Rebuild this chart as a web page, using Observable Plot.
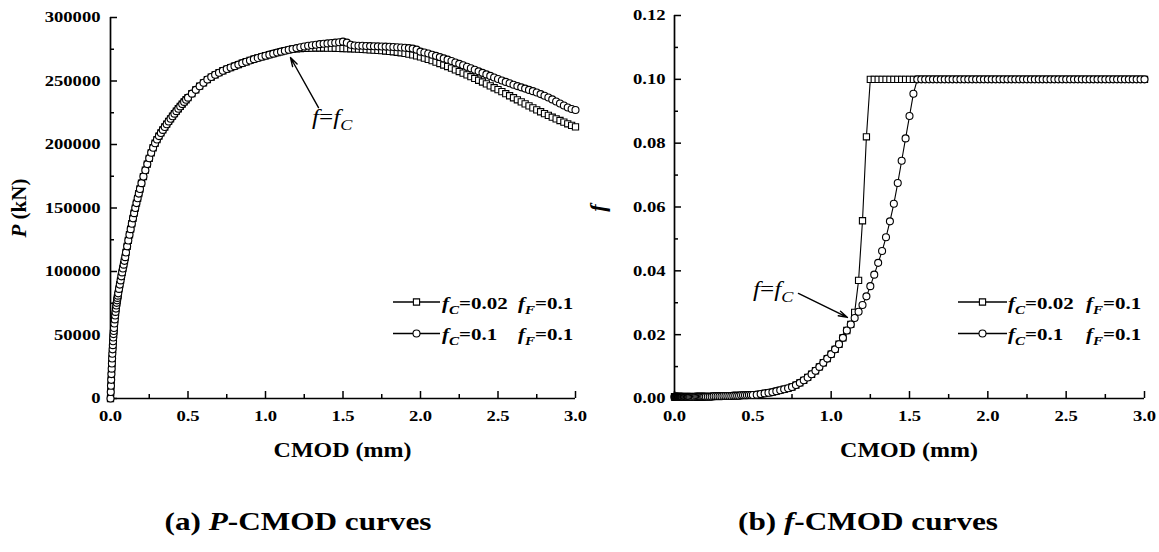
<!DOCTYPE html>
<html><head><meta charset="utf-8">
<script src="https://cdn.jsdelivr.net/npm/d3@7"></script>
<script src="https://cdn.jsdelivr.net/npm/@observablehq/plot@0.6"></script>
<style>
body{margin:0;background:#fff;width:1159px;height:552px;position:relative;overflow:hidden;font-family:"Liberation Serif","Times New Roman",serif;}
.panel{position:absolute;top:0;}
.caption{position:absolute;top:507px;font-size:26px;line-height:30px;font-weight:bold;color:#000;white-space:nowrap;transform:translateX(-50%) scaleX(1.2);}
#err{position:absolute;left:0;top:0;color:red;font:12px monospace;}
</style></head><body>
<div id="left" class="panel" style="left:0"></div>
<div id="right" class="panel" style="left:580px"></div>
<div class="caption" style="left:298px">(a) <i>P</i>-CMOD curves</div>
<div class="caption" style="left:868px">(b) <i>f</i>-CMOD curves</div>
<div id="err"></div>
<script>
// ---------- data ----------
// CMOD sample positions (mm), shared by all four series
const cmod = [
  0, 0.0015, 0.003, 0.0045, 0.006, 0.0075, 0.009, 0.0105, 0.012, 0.0135, 0.015, 0.0165, 0.018, 0.0195, 0.021, 0.0225,
  0.025, 0.0275, 0.03, 0.0325, 0.035, 0.0375, 0.04, 0.0425, 0.045, 0.0475,
  0.05, 0.055, 0.06, 0.065, 0.07, 0.075, 0.08, 0.085, 0.09, 0.095,
  0.1, 0.1075, 0.115, 0.1225, 0.13, 0.1375, 0.145, 0.1525, 0.16, 0.1675, 0.175, 0.1825, 0.19,
  0.2, 0.2125, 0.225, 0.2375, 0.25, 0.2625, 0.275, 0.2875, 0.3, 0.3125, 0.325, 0.3375, 0.35, 0.3625, 0.375, 0.3875, 0.4, 0.4125, 0.425, 0.4375, 0.45, 0.4625, 0.475, 0.4875,
  0.5, 0.525, 0.55, 0.575, 0.6, 0.625, 0.65, 0.675, 0.7, 0.725, 0.75, 0.775, 0.8, 0.825, 0.85, 0.875, 0.9, 0.925, 0.95, 0.975,
  1.0, 1.025, 1.05, 1.075, 1.1, 1.125, 1.15, 1.175, 1.2, 1.225, 1.25, 1.275, 1.3, 1.325, 1.35, 1.375, 1.4, 1.425, 1.45, 1.475,
  1.5, 1.525, 1.55, 1.575, 1.6, 1.625, 1.65, 1.675, 1.7, 1.725, 1.75, 1.775, 1.8, 1.825, 1.85, 1.875, 1.9, 1.925, 1.95, 1.975,
  2.0, 2.025, 2.05, 2.075, 2.1, 2.125, 2.15, 2.175, 2.2, 2.225, 2.25, 2.275, 2.3, 2.325, 2.35, 2.375, 2.4, 2.425, 2.45, 2.475,
  2.5, 2.525, 2.55, 2.575, 2.6, 2.625, 2.65, 2.675, 2.7, 2.725, 2.75, 2.775, 2.8, 2.825, 2.85, 2.875, 2.9, 2.925, 2.95, 2.975,
  3.0
];
// P (kN), identical for both cases up to CMOD = 1.175
const loadShared = [
  0, 5100, 10000, 14700, 19200, 23500, 27600, 31500, 35200, 38700, 42000, 45100, 48000, 50700, 53200, 55500,
  59000, 62300, 65400, 68200, 70800, 73200, 75300, 77300, 79200, 81000,
  82800, 86300, 89700, 93000, 96200, 99300, 102400, 105400, 108400, 111300,
  115000, 119800, 124450, 128950, 133350, 137650, 141850, 145950, 149950, 153850, 157650, 161350, 164950,
  169550, 174750, 179750, 184550, 189150, 193450, 197450, 201000, 203900, 206600, 209100, 211500, 213800, 216000, 218150, 220250, 222300, 224300, 226250, 228150, 230000, 231800, 233550, 235250,
  236900, 240050, 243050, 245900, 248600, 251150, 253100, 254900, 256550, 258050, 259400, 260600, 261700, 262900, 264050, 265150, 266200, 267200, 268150, 269050,
  269900, 270750, 271550, 272350, 273100, 273850, 274550, 275200
];
// P (kN) from CMOD = 1.2 to 3.0
const loadTailFc002 = [
  275300, 275500, 275700, 275800, 275900, 276000, 276000, 276000, 275900, 275900, 275800, 275700, 275600,
  275500, 275400, 275300, 275100, 274900, 274700, 274500, 274300, 274100, 273900, 273600, 273300, 273000, 272600, 272200, 271700, 271100, 270500, 269800, 269000,
  268000, 267000, 266000, 264900, 263800, 262600, 261400, 260100, 258800, 257500, 256200, 254800, 253400, 252000, 250600, 249200, 247700, 246200, 244700, 243200,
  241600, 240000, 238400, 236800, 235200, 233600, 232000, 230400, 228800, 227300, 225800, 224300, 222900, 221500, 220200, 218900, 217600, 216300, 215100, 213900
];
const loadTailFc01 = [
  275900, 276600, 277200, 277700, 278200, 278600, 279000, 279300, 279600, 279900, 280200, 280500, 281000,
  280200, 278600, 277900, 277800, 277700, 277600, 277500, 277400, 277300, 277200, 277100, 277000, 276800, 276600, 276400, 276200, 275900, 275500, 274700, 273100,
  272400, 271600, 270700, 269800, 268800, 267800, 266800, 265700, 264600, 263500, 262400, 261200, 260000, 258800, 257600, 256400, 255200, 254000, 252800, 251600,
  250400, 249300, 248200, 247100, 246000, 245000, 244000, 243000, 242000, 240900, 239700, 238400, 237000, 235500, 233900, 232300, 230700, 229100, 228000, 227200
];
// void volume fraction f, identical for both cases up to CMOD = 1.125
const fShared = [
  0.0005, 0.0005, 0.0005, 0.0005, 0.0005, 0.0005, 0.0005, 0.0005, 0.0005, 0.0005, 0.0005, 0.0005, 0.0005, 0.0005, 0.0005, 0.0005,
  0.0005, 0.0005, 0.0005, 0.0005, 0.0005, 0.0005, 0.0005, 0.0005, 0.0005, 0.0005,
  0.0005, 0.0005, 0.0005, 0.0005, 0.0005, 0.0005, 0.0005, 0.0005, 0.0005, 0.0005,
  0.0005, 0.0005, 0.0005, 0.0005, 0.0005, 0.0006, 0.0006, 0.0006, 0.0006, 0.0006, 0.0006, 0.0006, 0.0006,
  0.0006, 0.0006, 0.0006, 0.0006, 0.0007, 0.0007, 0.0007, 0.0007, 0.0007, 0.0008, 0.0008, 0.0008, 0.0008, 0.0008, 0.0009, 0.0009, 0.0009, 0.0009, 0.0010, 0.0010, 0.0010, 0.0010, 0.0011, 0.0011,
  0.0011, 0.0012, 0.0014, 0.0016, 0.0018, 0.0020, 0.0023, 0.0026, 0.0029, 0.0032, 0.0036, 0.0042, 0.0049, 0.0057, 0.0066, 0.0076, 0.0087, 0.0099, 0.0112, 0.0125,
  0.0139, 0.0154, 0.0170, 0.0190, 0.0213, 0.0232
];
// f from CMOD = 1.15 to 3.0
const fTailFc002 = [
  0.027, 0.037, 0.0557, 0.082,
  0.1, 0.1, 0.1, 0.1, 0.1, 0.1, 0.1, 0.1, 0.1, 0.1,
  0.1, 0.1, 0.1, 0.1, 0.1, 0.1, 0.1, 0.1, 0.1, 0.1,
  0.1, 0.1, 0.1, 0.1, 0.1, 0.1, 0.1, 0.1, 0.1, 0.1,
  0.1, 0.1, 0.1, 0.1, 0.1, 0.1, 0.1, 0.1, 0.1, 0.1,
  0.1, 0.1, 0.1, 0.1, 0.1, 0.1, 0.1, 0.1, 0.1, 0.1,
  0.1, 0.1, 0.1, 0.1, 0.1, 0.1, 0.1, 0.1, 0.1, 0.1,
  0.1, 0.1, 0.1, 0.1, 0.1, 0.1, 0.1, 0.1, 0.1, 0.1,
  0.1
];
const fTailFc01 = [
  0.0252, 0.0272, 0.0293, 0.0320, 0.0352, 0.0388, 0.0425, 0.0462, 0.0505, 0.0555, 0.0610, 0.0675, 0.0745, 0.0815, 0.0885, 0.0955,
  0.1, 0.1, 0.1, 0.1, 0.1, 0.1, 0.1, 0.1, 0.1, 0.1,
  0.1, 0.1, 0.1, 0.1, 0.1, 0.1, 0.1, 0.1, 0.1, 0.1,
  0.1, 0.1, 0.1, 0.1, 0.1, 0.1, 0.1, 0.1, 0.1, 0.1,
  0.1, 0.1, 0.1, 0.1, 0.1, 0.1, 0.1, 0.1, 0.1, 0.1,
  0.1, 0.1, 0.1, 0.1, 0.1, 0.1, 0.1, 0.1, 0.1, 0.1,
  0.1, 0.1, 0.1, 0.1, 0.1, 0.1, 0.1, 0.1, 0.1
];
// ticks
const xMajor = [0, 0.5, 1, 1.5, 2, 2.5, 3];
const xMinor = [0.25, 0.75, 1.25, 1.75, 2.25, 2.75];
const loadMajor = [0, 50000, 100000, 150000, 200000, 250000, 300000];
const loadMinor = [25000, 75000, 125000, 175000, 225000, 275000];
const fMajor = [0, 0.02, 0.04, 0.06, 0.08, 0.10, 0.12];
const fMinor = [0.01, 0.03, 0.05, 0.07, 0.09, 0.11];
// legend values
const legendFc = ["0.02", "0.1"];
const legendFf = ["0.1", "0.1"];
const legendSymbols = ["square", "circle"];
// annotation arrows (tail -> head), data units
const arrowLoad = [{x1: 1.342, y1: 229100, x2: 1.161, y2: 268500}];
const arrowF = [{x1: 0.791, y1: 0.0329, x2: 1.104, y2: 0.0254}];

// ---------- build ----------
try {
  function rows(ys) {
    if (ys.length !== cmod.length) throw new Error("length mismatch " + ys.length + " vs " + cmod.length);
    return cmod.map((x, i) => ({x, y: ys[i]}));
  }
  const loadSq = rows(loadShared.concat(loadTailFc002));
  const loadCi = rows(loadShared.concat(loadTailFc01));
  const fSq = rows(fShared.concat(fTailFc002));
  const fCi = rows(fShared.concat(fTailFc01));

  const FONT = '"Liberation Serif", "Times New Roman", serif';
  const SX = 1.2;
  const R = 3.5;

  function addText(parent, {x, y, anchor = "start", size, weight = "bold", parts, rotate = 0, sx = SX}) {
    const t = parent.append("text")
      .attr("transform", `translate(${x},${y})` + (rotate ? ` rotate(${rotate})` : "") + ` scale(${sx},1)`)
      .attr("text-anchor", anchor)
      .attr("font-family", FONT)
      .attr("font-size", size)
      .attr("font-weight", weight)
      .attr("font-style", "normal")
      .attr("fill", "#000");
    let shift = 0;
    for (const p of parts) {
      const ts = t.append("tspan").text(p.t);
      ts.attr("font-style", p.italic ? "italic" : "normal");
      const target = p.sub ? size * 0.3 : 0;
      if (target !== shift) { ts.attr("dy", target - shift); shift = target; }
      if (p.sub) ts.attr("font-size", size * 0.72);
    }
    return t;
  }

  function panel(cfg) {
    const {width, marginLeft, marginRight, marginTop, yDomain, yMajor, yMinor, yFormat, yPad, sq, ci, arrow} = cfg;
    const height = 470, marginBottom = 72;
    const fw = width - marginLeft - marginRight;
    const fh = height - marginTop - marginBottom;
    const plot = Plot.plot({
      width, height, marginLeft, marginRight, marginTop, marginBottom,
      style: {fontFamily: FONT, fontSize: "15.5px", fontWeight: "bold", color: "#000", background: "transparent", overflow: "visible"},
      x: {domain: [0, 3], label: null},
      y: {domain: yDomain, label: null},
      marks: [
        Plot.ruleX(xMajor, {insetTop: fh - 7, stroke: "#000", strokeWidth: 1.5}),
        Plot.ruleX(xMinor, {insetTop: fh - 4, stroke: "#000", strokeWidth: 1.5}),
        Plot.ruleY(yMajor, {insetRight: fw - 7, stroke: "#000", strokeWidth: 1.5}),
        Plot.ruleY(yMinor, {insetRight: fw - 4, stroke: "#000", strokeWidth: 1.5}),
        Plot.ruleY([yDomain[0]], {stroke: "#000", strokeWidth: 1.7}),
        Plot.ruleX([0], {stroke: "#000", strokeWidth: 1.7}),
        Plot.axisX({ticks: xMajor, tickSize: 0, tickPadding: 11, tickFormat: d3.format(".1f"), label: null}),
        Plot.axisY({ticks: yMajor, tickSize: 0, tickPadding: yPad, tickFormat: yFormat, label: null}),
        Plot.line(sq, {x: "x", y: "y", stroke: "#000", strokeWidth: 1.1}),
        Plot.dot(sq, {x: "x", y: "y", symbol: "square", r: R, fill: "#fff", stroke: "#000", strokeWidth: 1.1}),
        Plot.line(ci, {x: "x", y: "y", stroke: "#000", strokeWidth: 1.1}),
        Plot.dot(ci, {x: "x", y: "y", symbol: "circle", r: R, fill: "#fff", stroke: "#000", strokeWidth: 1.1}),
        Plot.arrow(arrow, {x1: "x1", y1: "y1", x2: "x2", y2: "y2", stroke: "#000", strokeWidth: 1.4, headLength: 10, headAngle: 32})
      ]
    });
    // widen tick labels horizontally like the reference typeface
    plot.querySelectorAll('g[aria-label="x-axis tick label"] text, g[aria-label="y-axis tick label"] text').forEach(t => {
      const tr = t.getAttribute("transform");
      if (tr) t.setAttribute("transform", tr + ` scale(${SX},1)`);
      else {
        const x = +t.getAttribute("x") || 0, y = +t.getAttribute("y") || 0;
        t.removeAttribute("x"); t.removeAttribute("y");
        t.setAttribute("transform", `translate(${x},${y}) scale(${SX},1)`);
      }
    });
    const svg = d3.select(plot);
    // x title
    addText(svg, {x: marginLeft + fw / 2, y: 457, anchor: "middle", size: 20, parts: [{t: "CMOD (mm)"}]});
    // y title
    addText(svg, {x: cfg.yTitleX, y: 208, anchor: "middle", size: cfg.yTitleSize, rotate: -90, sx: 1, parts: cfg.yTitle});
    // legend
    const L = cfg.legend;
    const g = svg.append("g");
    [L.row1, L.row2].forEach((ly, i) => {
      g.append("line").attr("x1", L.x0).attr("x2", L.x1).attr("y1", ly).attr("y2", ly)
        .attr("stroke", "#000").attr("stroke-width", 1.6);
      g.append("path").attr("d", d3.symbol(legendSymbols[i] === "square" ? d3.symbolSquare : d3.symbolCircle, Math.PI * R * R)())
        .attr("transform", `translate(${(L.x0 + L.x1) / 2},${ly})`)
        .attr("fill", "#fff").attr("stroke", "#000").attr("stroke-width", 1.1);
      addText(g, {x: L.textX, y: ly + 6.5, size: 17.5, parts: [{t: "f", italic: true}, {t: "C", italic: true, sub: true}, {t: "=" + legendFc[i]}]});
      addText(g, {x: L.col2X, y: ly + 6.5, size: 17.5, parts: [{t: "f", italic: true}, {t: "F", italic: true, sub: true}, {t: "=" + legendFf[i]}]});
    });
    // annotation text
    addText(svg, {x: cfg.noteX, y: cfg.noteY, size: 21, weight: "normal",
      parts: [{t: "f", italic: true}, {t: "="}, {t: "f", italic: true}, {t: "C", italic: true, sub: true}]});
    return plot;
  }

  document.getElementById("left").append(panel({
    width: 580, marginLeft: 110, marginRight: 5, marginTop: 17,
    yDomain: [0, 300000], yMajor: loadMajor, yMinor: loadMinor, yFormat: d3.format("d"), yPad: 10,
    sq: loadSq, ci: loadCi, arrow: arrowLoad,
    yTitleX: 26, yTitleSize: 21, yTitle: [{t: "P", italic: true}, {t: " (kN)"}],
    legend: {x0: 393, x1: 440, textX: 442, col2X: 518, row1: 302, row2: 333.5},
    noteX: 312, noteY: 124
  }));
  document.getElementById("right").append(panel({
    width: 579, marginLeft: 94, marginRight: 15, marginTop: 15,
    yDomain: [0, 0.12], yMajor: fMajor, yMinor: fMinor, yFormat: d3.format(".2f"), yPad: 9,
    sq: fSq, ci: fCi, arrow: arrowF,
    yTitleX: 25, yTitleSize: 22, yTitle: [{t: "f", italic: true}],
    legend: {x0: 378, x1: 427, textX: 428, col2X: 506, row1: 302, row2: 333.5},
    noteX: 173, noteY: 296
  }));
} catch (e) {
  document.getElementById("err").textContent = String(e && e.stack || e);
  throw e;
}
</script>
</body></html>
